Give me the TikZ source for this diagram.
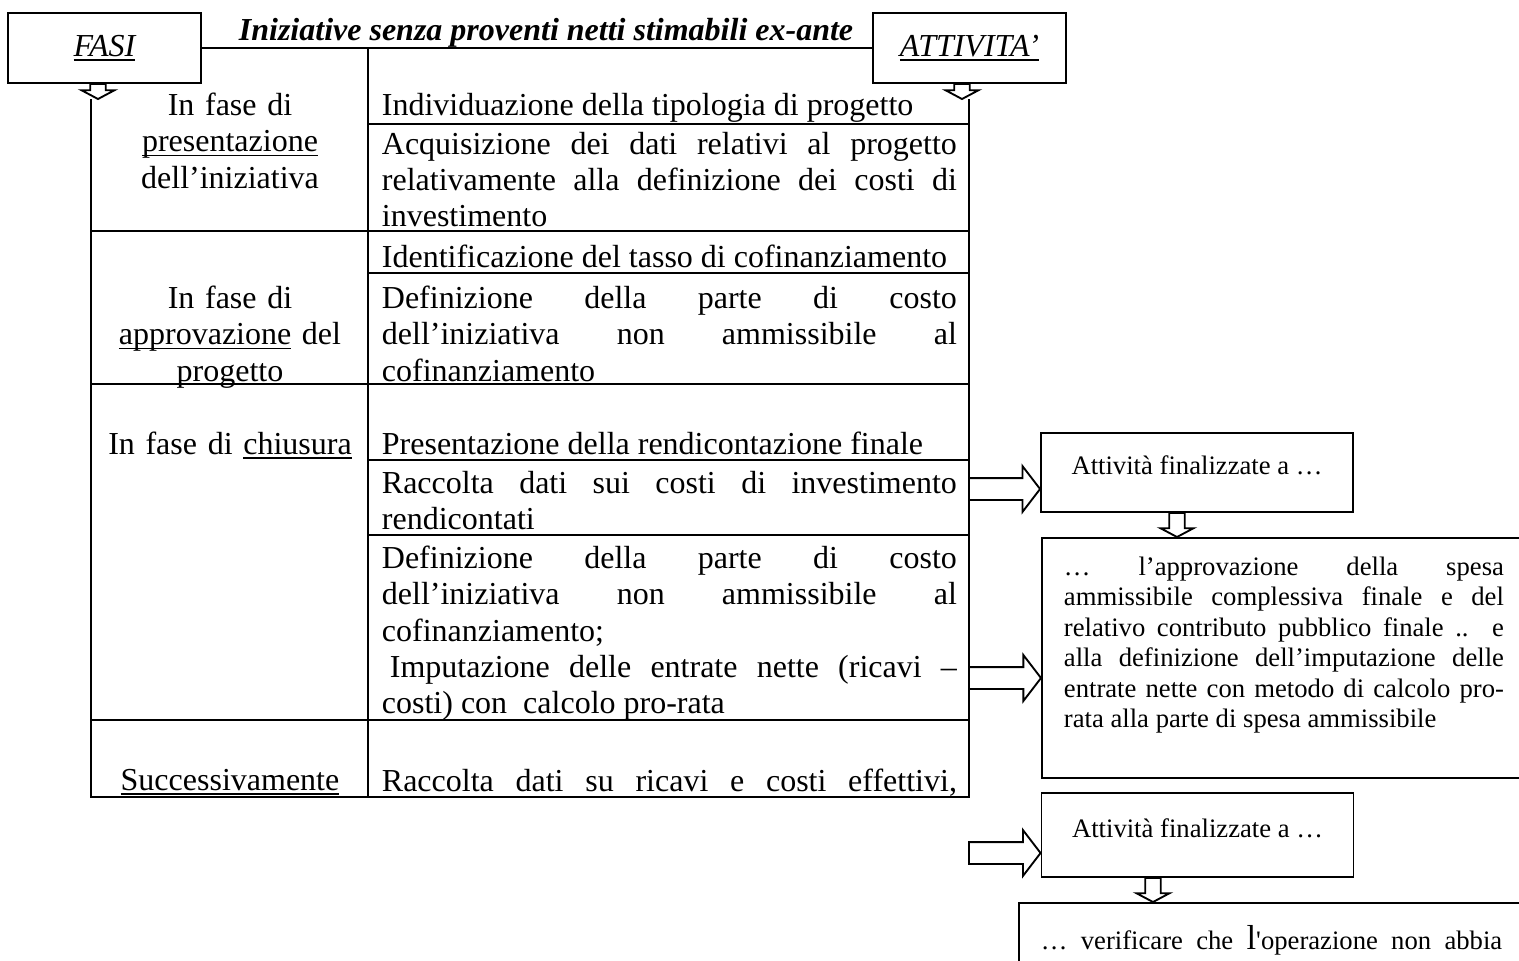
\documentclass[tikz,border=0pt]{standalone}
\usepackage{fontspec}
\setmainfont{Liberation Serif}
\usetikzlibrary{calc}
\tolerance=10000 \hbadness=10000 \hyphenpenalty=10000

\newcommand\undl[1]{\leavevmode\setbox0\hbox{#1}\rlap{\rule[-1.7pt]{\wd0}{0.6pt}}\box0\relax}
\newcommand\fatright[2]{%
  \draw[fat] let \p1=(#1), \p2=(#2) in
    (\x1,\y1+4.1pt) -- (\x2-6.6pt,\y1+4.1pt) -- (\x2-6.6pt,\y1+8.6pt) -- (\x2,\y1)
    -- (\x2-6.6pt,\y1-8.6pt) -- (\x2-6.6pt,\y1-4.1pt) -- (\x1,\y1-4.1pt) -- cycle;}
\newcommand\fatdown[2]{%
  \draw[fat] let \p1=(#1), \p2=(#2) in
    (\x2-2.9pt,\y1) -- (\x2-2.9pt,\y2+3.3pt) -- (\x2-6.2pt,\y2+3.3pt) -- (\x2,\y2)
    -- (\x2+6.2pt,\y2+3.3pt) -- (\x2+2.9pt,\y2+3.3pt) -- (\x2+2.9pt,\y1) -- cycle;}

\tikzset{
  box/.style={draw, line width=.7pt, inner sep=0pt},
  fat/.style={draw, line width=.7pt, fill=white},
  head/.style={box, minimum width=72.4pt, minimum height=26.25pt, font=\fontsize{12}{13.6}\selectfont\itshape},
  cell/.style={anchor=north west, inner sep=0pt, text width=215.6pt, align=justify, font=\fontsize{12}{13.6}\selectfont},
  phase/.style={anchor=north, inner sep=0pt, text width=104pt, align=center, font=\fontsize{12}{13.6}\selectfont},
  goal/.style={box, minimum width=117pt, minimum height=29.6pt, text depth=5.2pt, font=\fontsize{10}{11.4}\selectfont},
  note/.style={anchor=north west, inner sep=0pt, text width=165pt, align=justify, font=\fontsize{10}{11.4}\selectfont},
}

\begin{document}
\begin{tikzpicture}[x=0.375pt, y=-0.375pt, line width=.7pt]
\useasboundingbox (0,0) rectangle (1519,960);
\clip (0,0) rectangle (1519,960);
% headers
\node[head] (fasi) at (104.5,48) {\undl{FASI}};
\node[head] (att) at (969.5,48) {\undl{ATTIVITA’}};
\node[anchor=base, inner sep=0pt, font=\fontsize{12}{13.6}\selectfont\bfseries\itshape] (title) at (546,40) {Iniziative senza proventi netti stimabili ex-ante};
\draw (fasi.east) -- (att.west);
% table
\coordinate (ftip) at (98,99);
\coordinate (atip) at (962,99);
\draw (91,99) -- (91,797) -- (969,797) -- (969,99);
\draw (368,48) -- (368,797);
\foreach \y in {231,384,720} \draw (91,\y) -- (969,\y);
\foreach \y in {124,273,460,535} \draw (368,\y) -- (969,\y);
% phases
\node[phase] (ph1) at (230,92) {In fase di\\\undl{presentazione}\\dell’iniziativa};
\node[phase] (ph2) at (230,285) {In fase di\\\undl{approvazione} del\\progetto};
\node[phase] (ph3) at (230,431) {In fase di \undl{chiusura}};
\node[phase] (ph4) at (230,768) {\undl{Successivamente}};
% activities
\node[cell] (c11) at (381,92) {Individuazione della tipologia di progetto};
\node[cell] (c12) at (381,131) {Acquisizione dei dati relativi al progetto\linebreak relativamente alla definizione dei costi di\linebreak investimento};
\node[cell] (c21) at (381,244) {Identificazione del tasso di cofinanziamento};
\node[cell] (c22) at (381,285) {Definizione della parte di costo\linebreak dell’iniziativa non ammissibile al\linebreak cofinanziamento};
\node[cell] (c31) at (381,431) {Presentazione della rendicontazione finale};
\node[cell] (c32) at (381,470) {Raccolta dati sui costi di investimento\linebreak rendicontati};
\node[cell] (c33) at (381,545) {Definizione della parte di costo\linebreak dell’iniziativa non ammissibile al\linebreak cofinanziamento;\\\hspace*{3pt}Imputazione delle entrate nette (ricavi –\linebreak costi) con\ \ calcolo pro-rata};
\node[cell] (c41) at (381,768) {\makebox[\hsize][s]{Raccolta dati su ricavi e costi effettivi,}};
% goals
\node[goal] (a1) at (1197,472.5) {Attività finalizzate a …};
\node[box, anchor=north west, minimum width=189pt, minimum height=90pt] (big) at (1041,537) {};
\node[note] (bigtxt) at ([shift={(22,19)}]big.north west) {…\ l’approvazione della spesa\linebreak ammissibile complessiva finale e del\linebreak relativo contributo pubblico finale .. e\linebreak alla definizione dell’imputazione delle\linebreak entrate nette con metodo di calcolo pro-\linebreak rata alla parte di spesa ammissibile};
\node[goal, minimum height=31.5pt] (a2) at (1197.5,835) {Attività finalizzate a …};
\node[box, anchor=north west, minimum width=200pt, minimum height=30pt] (last) at (1018,902) {};
\node[note, text width=173pt] (lasttxt) at ([shift={(22,22)}]last.north west) {\makebox[\hsize][s]{… verificare che {\fontsize{13}{13}\selectfont l}\textquotesingle operazione non abbia}};
% arrows
\fatdown{fasi.south}{ftip}
\fatdown{att.south}{atip}
\coordinate (t1) at (969,489);
\coordinate (t2) at (969,678);
\coordinate (t3) at (969,853);
\fatright{t1}{a1.west}
\fatright{t2}{big.west}
\fatright{t3}{a2.west}
\coordinate (d1) at (1177,537);
\coordinate (d2) at (1153,902);
\fatdown{a1.south}{d1}
\fatdown{a2.south}{d2}
\end{tikzpicture}
\end{document}
